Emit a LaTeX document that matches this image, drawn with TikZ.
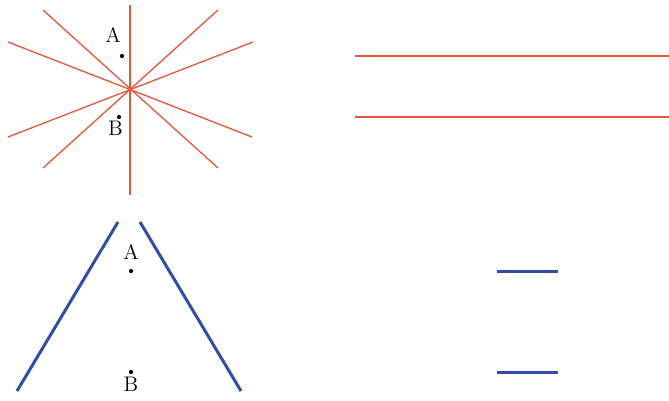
\documentclass[tikz,border=0pt]{standalone}
\usepackage{amsfonts, amsmath, amssymb}
\usetikzlibrary{positioning}

\definecolor{rayred}{RGB}{226,88,58}
\definecolor{wallblue}{RGB}{48,78,168}

\tikzset{
    ray/.style={rayred, line width=0.75pt},
    wall/.style={wallblue, line width=1.7pt},
    pointdot/.style={circle, fill=black, inner sep=0pt, minimum size=2.4pt},
    pointlabel/.style={font=\fontsize{12}{14}\selectfont, inner sep=1pt}
}

\begin{document}
\begin{tikzpicture}[x=0.02cm, y=-0.02cm]

    % Cadre de l'image
    \useasboundingbox (0,0) rectangle (669,400);

    % Premier volet : faisceau de droites par un même point
    \begin{scope}
        \draw[ray] (130,5) -- (130,195);
        \draw[ray] (43,10) -- (218,168);
        \draw[ray] (218,10) -- (43,168);
        \draw[ray] (8,42) -- (252,137);
        \draw[ray] (253,42) -- (8,137);

        % Points A et B
        \node[pointdot] (A1) at (122,56) {};
        \node[pointlabel, above=5pt of A1, xshift=-5pt] (lA1) {A};
        \node[pointdot] (B1) at (119,117) {};
        \node[pointlabel, below=0pt of B1, xshift=-2pt] (lB1) {B};
    \end{scope}

    % Second volet : deux droites paralleles
    \begin{scope}
        \draw[ray] (355,56) -- (669,56);
        \draw[ray] (355,117) -- (669,117);
    \end{scope}

    % Troisieme volet : deux demi-droites en bleu
    \begin{scope}
        \draw[wall] (118,222) -- (17,391);
        \draw[wall] (140,222) -- (241,391);

        % Points A et B
        \node[pointdot] (A2) at (131,271) {};
        \node[pointlabel, above=4pt of A2] (lA2) {A};
        \node[pointdot] (B2) at (131,372) {};
        \node[pointlabel, below=0.5pt of B2] (lB2) {B};
    \end{scope}

    % Quatrieme volet : deux segments courts
    \begin{scope}
        \draw[wall] (497,271) -- (558,271);
        \draw[wall] (497,372) -- (558,372);
    \end{scope}

\end{tikzpicture}
\end{document}
